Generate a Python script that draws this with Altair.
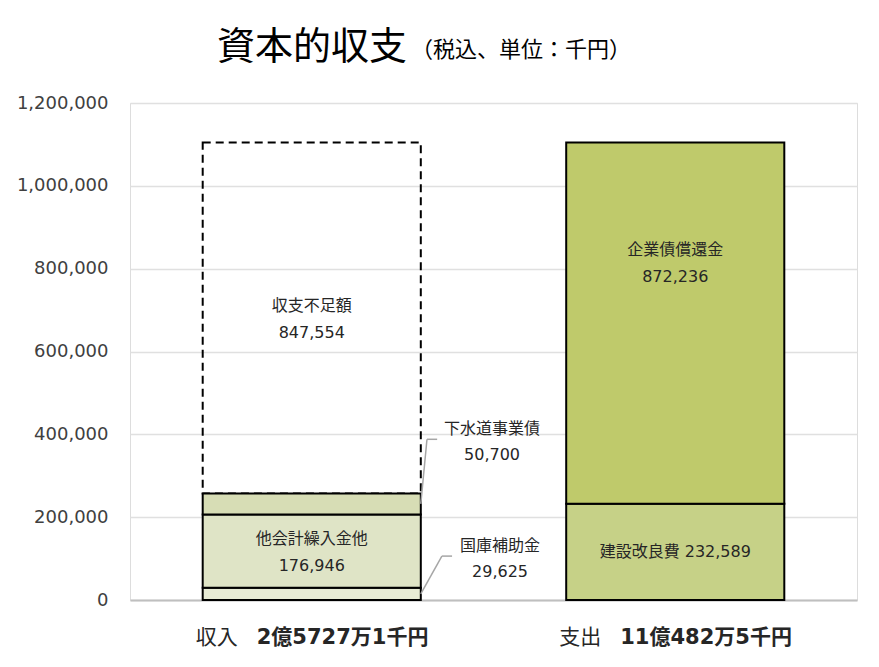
import altair as alt
import pandas as pd

# ---------------- data ----------------
title_main = "資本的収支"
title_sub = "（税込、単位：千円）"

categories = ["収入", "支出"]
category_totals = ["2億5727万1千円", "11億482万5千円"]

seg_category = ["収入", "収入", "収入", "収入", "支出", "支出"]
seg_names = ["国庫補助金", "他会計繰入金他", "下水道事業債", "収支不足額", "建設改良費", "企業債償還金"]
seg_values = [29625, 176946, 50700, 847554, 232589, 872236]

y_ticks = [0, 200000, 400000, 600000, 800000, 1000000, 1200000]

# external (leader-line) labels
ext_names = ["下水道事業債", "国庫補助金"]
ext_elbow_x = [0.817, 0.858]
ext_end_x = [0.845, 0.886]
ext_elbow_y = [388000, 106000]
ext_text_x = [0.996, 1.018]

# ---------------- styling ----------------
W, H = 727, 497
FONT = "DejaVu Sans, Noto Sans CJK JP"
JP = "Noto Sans CJK JP, DejaVu Sans"
TXT = "#262626"
fill_domain = ["国庫補助金", "他会計繰入金他", "下水道事業債", "建設改良費", "企業債償還金"]
fill_range = ["#e7ebd5", "#dfe4c6", "#d7ddb5", "#c6d187", "#bfca6b"]

# ---------------- tables ----------------
rows = []
cum = {c: 0 for c in categories}
for c, n, v in zip(seg_category, seg_names, seg_values):
    i = categories.index(c)
    s = cum[c]
    e = s + v
    cum[c] = e
    rows.append(dict(category=c, segment=n, value=v, y0=s, y1=e, mid=(s + e) / 2,
                     x0=i + 0.2, x1=i + 0.8, xc=i + 0.5,
                     label=f"{n}\n{v:,}", label1=f"{n} {v:,}"))
df = pd.DataFrame(rows)

ext_rows = []
for n, ex, endx, ey, tx in zip(ext_names, ext_elbow_x, ext_end_x, ext_elbow_y, ext_text_x):
    r = df[df.segment == n].iloc[0]
    ext_rows.append(dict(segment=n, kind="diag", xa=r.x1, ya=r.mid, xb=ex, yb=ey, tx=tx,
                         label=f"{n}\n{r.value:,}"))
    ext_rows.append(dict(segment=n, kind="flat", xa=ex, ya=ey, xb=endx, yb=ey, tx=tx,
                         label=f"{n}\n{r.value:,}"))
ext = pd.DataFrame(ext_rows)

cat_df = pd.DataFrame(dict(category=categories, total=category_totals,
                           xc=[i + 0.5 for i in range(len(categories))]))
title_df = pd.DataFrame(dict(main=[title_main], sub=[title_sub]))

xs = alt.Scale(domain=[0, 2], nice=False, zero=False)
ys = alt.Scale(domain=[0, 1200000], nice=False)

base = alt.Chart(df)

grid = base.mark_rect(opacity=0).encode(
    x=alt.X("x0:Q", scale=xs, axis=alt.Axis(labels=False, ticks=False, grid=False, title=None,
                                            domain=True, domainColor="#bfbfbf", domainWidth=2)),
    y=alt.Y("y0:Q", scale=ys, axis=alt.Axis(values=y_ticks, format=",d", title=None, ticks=False,
                                            domain=False, grid=True, gridColor="#e0e0e0", gridWidth=1.5,
                                            labelFont=FONT, labelFontSize=18, labelColor="#404040",
                                            labelPadding=22)),
)

dashed = base.transform_filter(alt.datum.segment == "収支不足額").mark_rect(
    fillOpacity=0, stroke="black", strokeWidth=2, strokeDash=[8, 5]
).encode(x=alt.X("x0:Q", scale=xs), x2="x1:Q", y=alt.Y("y0:Q", scale=ys), y2="y1:Q")

solid = base.transform_filter(alt.datum.segment != "収支不足額").mark_rect(
    stroke="black", strokeWidth=2
).encode(
    x=alt.X("x0:Q", scale=xs), x2="x1:Q", y=alt.Y("y0:Q", scale=ys), y2="y1:Q",
    fill=alt.Fill("segment:N", scale=alt.Scale(domain=fill_domain, range=fill_range), legend=None),
)

lbl_two = base.transform_filter(
    alt.FieldOneOfPredicate(field="segment", oneOf=["他会計繰入金他", "収支不足額"])
).mark_text(font=FONT, fontSize=16, color=TXT, lineBreak="\n", lineHeight=27, baseline="middle",
            dy=-12).encode(
    x=alt.X("xc:Q", scale=xs), y=alt.Y("mid:Q", scale=ys), text="label:N")

lbl_top = base.transform_filter(alt.datum.segment == "企業債償還金").mark_text(
    font=FONT, fontSize=16, color=TXT, lineBreak="\n", lineHeight=27, baseline="middle", dy=-73
).encode(x=alt.X("xc:Q", scale=xs), y=alt.Y("mid:Q", scale=ys), text="label:N")

lbl_one = base.transform_filter(alt.datum.segment == "建設改良費").mark_text(
    font=FONT, fontSize=16, color=TXT, baseline="middle"
).encode(x=alt.X("xc:Q", scale=xs), y=alt.Y("mid:Q", scale=ys), text="label1:N")

leaders = alt.Chart(ext).mark_rule(color="#a6a6a6", strokeWidth=1.5).encode(
    x=alt.X("xa:Q", scale=xs), y=alt.Y("ya:Q", scale=ys), x2="xb:Q", y2="yb:Q")

ext_lbl = alt.Chart(ext).transform_filter(alt.datum.kind == "flat").mark_text(
    font=FONT, fontSize=16, color=TXT, lineBreak="\n", lineHeight=26, baseline="middle", dy=-10
).encode(x=alt.X("tx:Q", scale=xs), y=alt.Y("yb:Q", scale=ys), text="label:N")

cat_pre = alt.Chart(cat_df).mark_text(font=JP, fontSize=21, color=TXT, align="right",
                                      baseline="middle", dx=-74).encode(
    x=alt.X("xc:Q", scale=xs), y=alt.value(535), text="category:N")
cat_tot = alt.Chart(cat_df).mark_text(font=FONT, fontSize=21, fontWeight="bold", color=TXT,
                                      align="left", baseline="middle", dx=-55).encode(
    x=alt.X("xc:Q", scale=xs), y=alt.value(535), text="total:N")

t_main = alt.Chart(title_df).mark_text(font=JP, fontSize=38, color="#000000", align="left",
                                       baseline="middle").encode(
    x=alt.value(87), y=alt.value(-55), text="main:N")
t_sub = alt.Chart(title_df).mark_text(font=JP, fontSize=22, color="#000000", align="left",
                                      baseline="middle").encode(
    x=alt.value(281), y=alt.value(-53), text="sub:N")

chart = alt.layer(grid, dashed, solid, lbl_two, lbl_top, lbl_one, leaders, ext_lbl,
                  cat_pre, cat_tot, t_main, t_sub).properties(
    width=W, height=H,
    autosize=alt.AutoSizeParams(type="none"),
    padding={"left": 122, "top": 95, "right": 14, "bottom": 59},
).configure_view(stroke=None).configure(background="white")

chart.save("out.html", embed_options={"renderer": "svg", "actions": False})
